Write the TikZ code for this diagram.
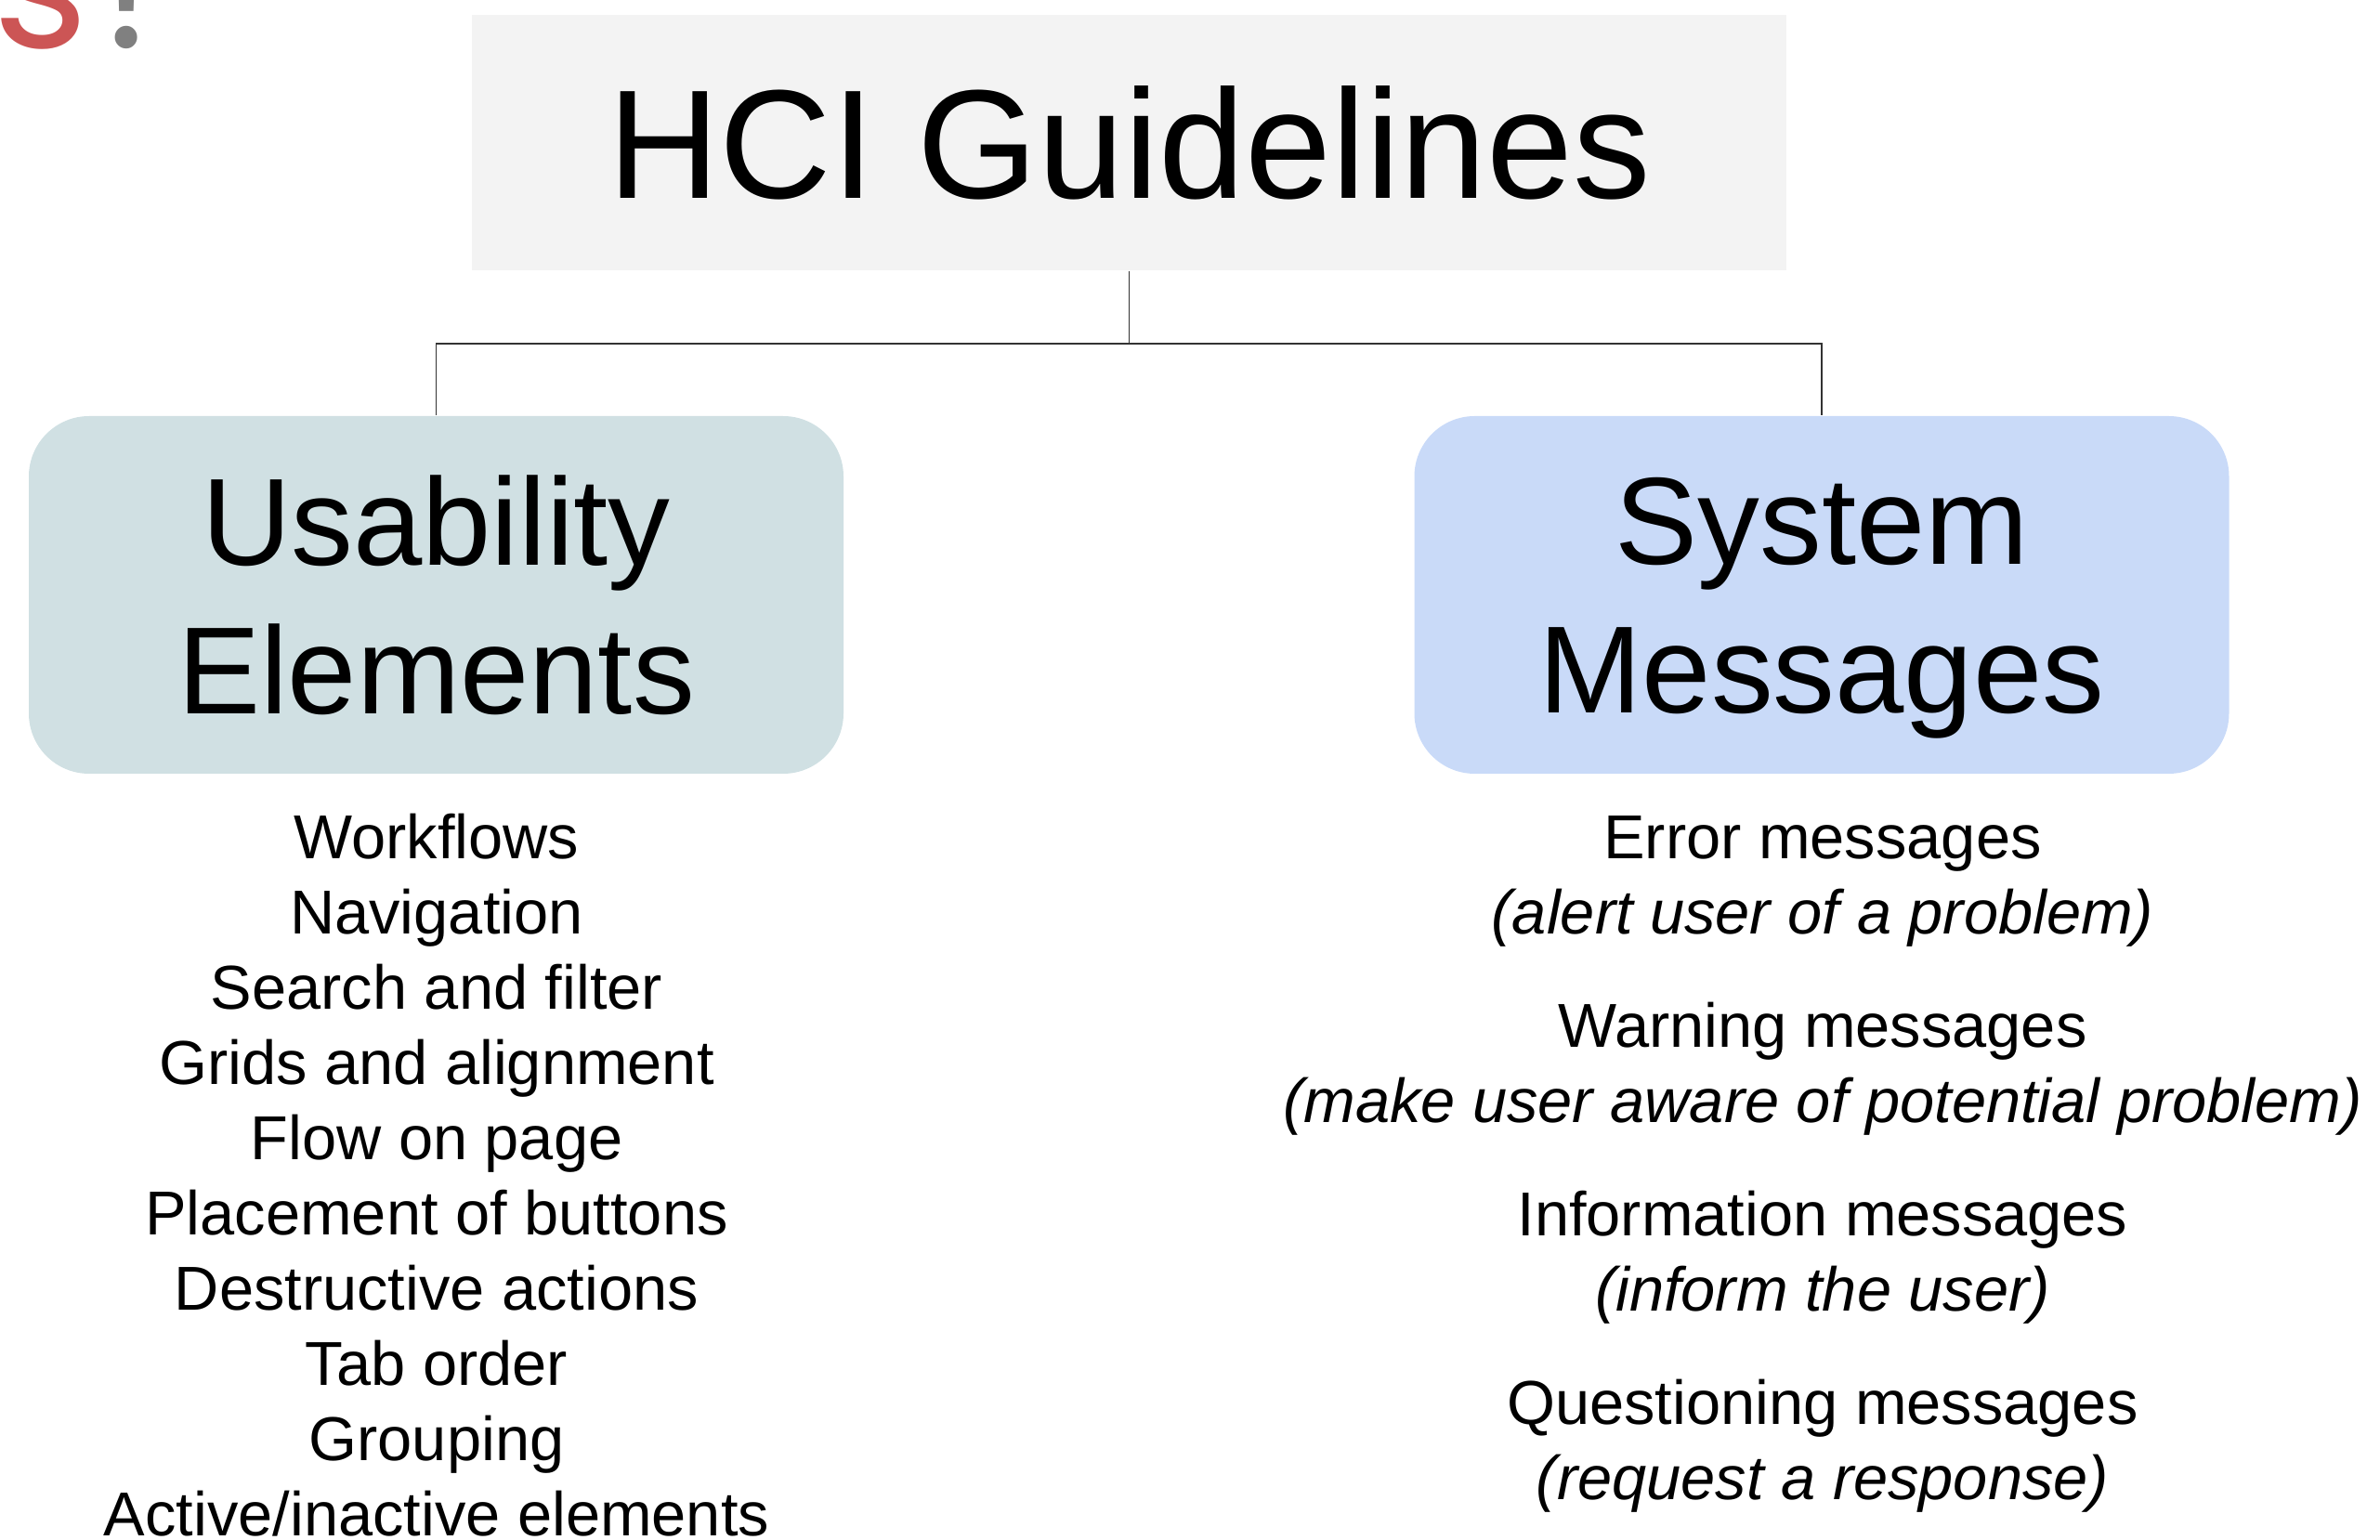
\documentclass[tikz,border=0pt]{standalone}
\usepackage{fontspec}
\setmainfont{Liberation Sans}
\newfontfamily\headfont{Poppins}
\usetikzlibrary{positioning}
\definecolor{TitleGray}{RGB}{243,243,243}
\definecolor{UsabTeal}{RGB}{208,224,227}
\definecolor{MsgBlue}{RGB}{201,218,248}
\definecolor{SlideRed}{RGB}{204,85,85}
\definecolor{SlideGray}{RGB}{128,128,128}
\definecolor{LinkGray}{RGB}{51,51,51}

\tikzset{
  catbox/.style={
    rounded corners=0.65cm,
    minimum width=8.77cm,
    minimum height=3.85cm,
    inner sep=0pt,
    text depth=0pt,
    align=center,
    font=\fontsize{38}{45.5}\selectfont
  },
  headfrag/.style={inner sep=0pt, font=\headfont\fontsize{56}{60}\selectfont},
  item/.style={anchor=base, inner sep=0pt, font=\fontsize{19}{23}\selectfont},
  link/.style={draw=LinkGray, line width=0.5pt}
}

\begin{document}
\begin{tikzpicture}[x=1cm,y=1cm]
\useasboundingbox (0,0) rectangle (25.62,-16.58);

% cut-off slide heading
\node[headfrag, anchor=base east, text=SlideRed] (heads) at (0.96,-0.52) {s};
\node[headfrag, anchor=base west, text=SlideGray] (headq) at (0.98,-0.52) {?};

\node[
  fill=TitleGray,
  minimum width=14.15cm,
  minimum height=2.75cm,
  inner sep=0pt,
  font=\fontsize{47.5}{57}\selectfont
] (title) at (12.155,-1.535) {HCI Guidelines};

\node[catbox, fill=UsabTeal] (usab) at (4.695,-6.405) {Usability\\Elements};
\node[catbox, fill=MsgBlue] (sysmsg) at (19.61,-6.405) {System\\Messages};

\draw[link] (title.south) -- ++(0,-0.78) coordinate (fork) -| (usab.north);
\draw[link] (fork) -| (sysmsg.north);

\foreach \txt [count=\i from 0] in {Workflows, Navigation, Search and filter,
    Grids and alignment, Flow on page, Placement of buttons,
    Destructive actions, Tab order, Grouping, {Active/inactive elements}}
  \node[item] (u\i) at (4.70,{-9.25-0.81*\i}) {\txt};

\foreach \head/\note [count=\j from 0] in {
    Error messages/alert user of a problem,
    Warning messages/make user aware of potential problem,
    Information messages/inform the user,
    Questioning messages/request a response} {
  \node[item] (h\j) at (19.62,{-9.25-2.03*\j}) {\head};
  \node[item] (n\j) at (19.62,{-10.06-2.03*\j}) {\itshape(\note)};
}
\end{tikzpicture}
\end{document}
